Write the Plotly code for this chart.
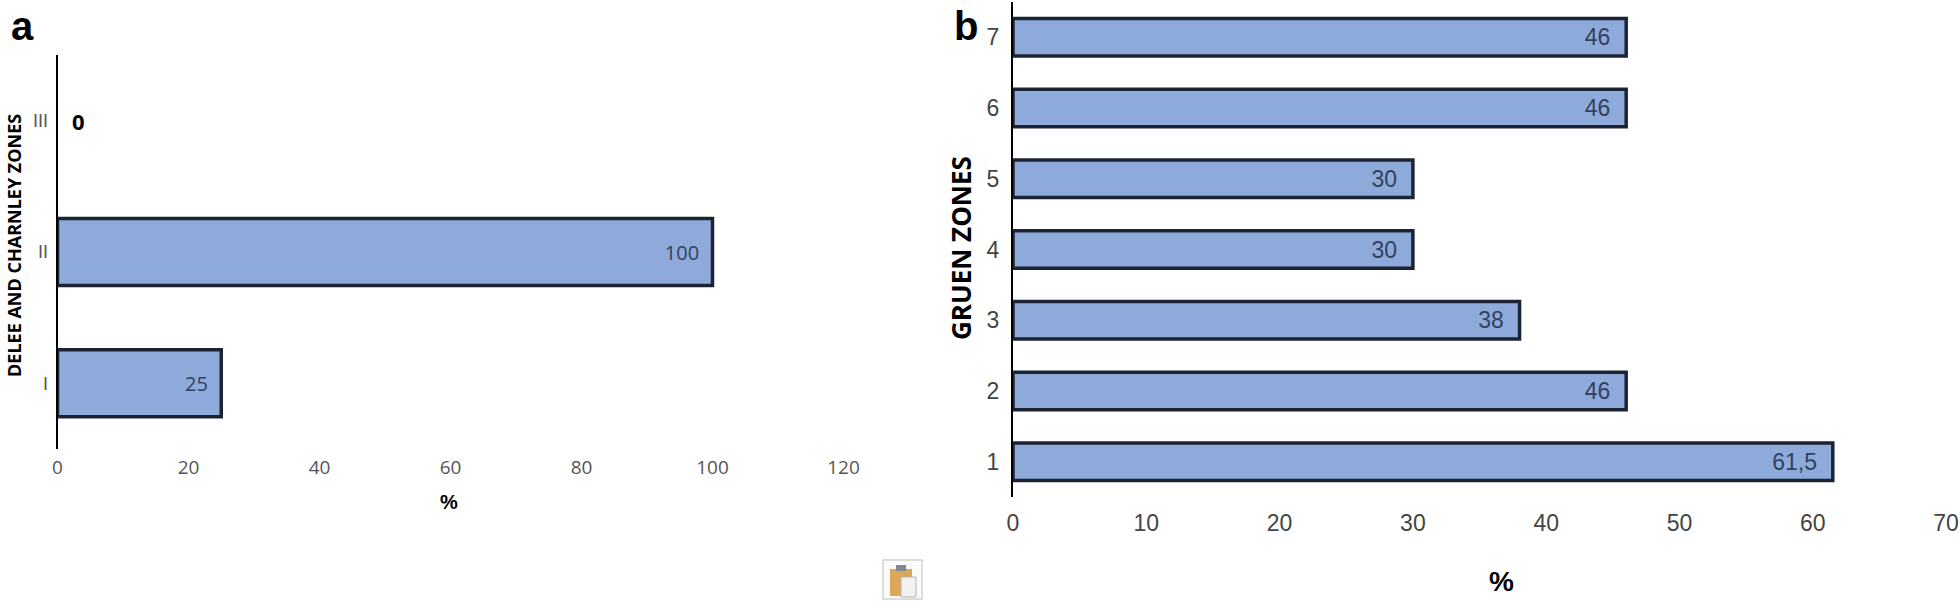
import plotly.graph_objects as go

W, H = 1960, 603

zones_a = ["I", "II", "III"]
values_a = [25, 100, 0]
ticks_a = [0, 20, 40, 60, 80, 100, 120]

zones_b = ["1", "2", "3", "4", "5", "6", "7"]
values_b = [61.5, 46, 38, 30, 30, 46, 46]
labels_b = ["61,5", "46", "38", "30", "30", "46", "46"]
ticks_b = [0, 10, 20, 30, 40, 50, 60, 70]

FILL = "#8eaadb"
EDGE = "#1c2433"
NARROW = "Liberation Sans, Arial"
OPEN = "Open Sans, Arial"
BOLD = "Liberation Sans, Arial"
PAD = "\u00a0\u00a0"


def px(x):
    return x / W


def py(y):
    return 1 - y / H


fig = go.Figure()

fig.add_trace(go.Bar(
    y=zones_a, x=values_a, orientation="h", width=0.51, xaxis="x", yaxis="y",
    marker=dict(color=FILL, line=dict(color=EDGE, width=[3.5 if v else 0 for v in values_a])),
    text=[str(v) + PAD if v else "" for v in values_a], textposition="inside",
    insidetextanchor="end", textangle=0,
    textfont=dict(family=OPEN, size=20, color="#33415c"),
    cliponaxis=False,
))
fig.add_trace(go.Bar(
    y=zones_b, x=values_b, orientation="h", width=0.53, xaxis="x2", yaxis="y2",
    marker=dict(color=FILL, line=dict(color=EDGE, width=3.5)),
    text=[t + PAD for t in labels_b], textposition="inside", insidetextanchor="end", textangle=0,
    textfont=dict(family=NARROW, size=23, color="#33415c"),
    cliponaxis=False,
))

axis_common = dict(showgrid=False, zeroline=False, fixedrange=True, ticklabeloverflow="allow")
fig.update_layout(
    width=W, height=H, autosize=False, showlegend=False,
    margin=dict(l=0, r=0, t=0, b=0, autoexpand=False),
    paper_bgcolor="white", plot_bgcolor="white",
    xaxis=dict(domain=[px(57.5), px(57.5 + 6.55 * 125)], range=[0, 125],
               anchor="y", tickvals=ticks_a, showline=False, ticklabelstandoff=5,
               tickfont=dict(family=OPEN, size=19, color="#555555"), **axis_common),
    yaxis=dict(domain=[py(449), py(55)], anchor="x", type="category",
               showline=True, linecolor="black", linewidth=2, ticklabelstandoff=4,
               tickfont=dict(family=NARROW, size=18, color="#555555"), **axis_common),
    xaxis2=dict(domain=[px(1013), px(1013 + 13.33 * 70)], range=[0, 70],
                anchor="y2", tickvals=ticks_b, showline=False, ticklabelstandoff=10,
                tickfont=dict(family=NARROW, size=23, color="#444444"), **axis_common),
    yaxis2=dict(domain=[py(497), py(2)], anchor="x2", type="category",
                showline=True, linecolor="black", linewidth=2, ticklabelstandoff=7,
                tickfont=dict(family=NARROW, size=23, color="#444444"), **axis_common),
)


def note(text, x, y, size, family=BOLD, angle=0, color="black"):
    fig.add_annotation(text=text, x=px(x), y=py(y), xref="paper", yref="paper",
                       showarrow=False, textangle=angle, xanchor="center", yanchor="middle",
                       font=dict(family=family, size=size, color=color))


note("<b>a</b>", 22, 26, 40)
note("<b>b</b>", 966, 26, 40)
note("<b>DELEE AND CHARNLEY ZONES</b>", 14, 246, 18, family=OPEN, angle=-90)
note("<b>GRUEN ZONES</b>", 961, 248, 26, family=OPEN, angle=-90)
note("<b>%</b>", 449, 502, 20, family=NARROW)
note("<b>%</b>", 1501, 581, 28, family=NARROW)

fig.add_annotation(text="<b>%d</b>" % values_a[2], x=3.2, y="III", xref="x", yref="y",
                   showarrow=False, font=dict(family=OPEN, size=22, color="black"))

# clipboard icon
fig.add_shape(type="rect", xref="paper", yref="paper", x0=px(883), x1=px(922), y0=py(599), y1=py(560),
              line=dict(color="#dddddd", width=2), fillcolor="#fbfbfb")
fig.add_shape(type="rect", xref="paper", yref="paper", x0=px(890), x1=px(912), y0=py(596), y1=py(569),
              line=dict(width=0), fillcolor="#dba858")
fig.add_shape(type="rect", xref="paper", yref="paper", x0=px(896), x1=px(906), y0=py(571), y1=py(565),
              line=dict(width=0), fillcolor="#7f8790")
fig.add_shape(type="rect", xref="paper", yref="paper", x0=px(901), x1=px(916), y0=py(597), y1=py(577),
              line=dict(color="#b5b5b5", width=1), fillcolor="#f1f1f1")

fig.write_html("out.html", config=dict(displayModeBar=False),
               post_script="document.body.style.margin='0';document.body.style.overflow='hidden';")
